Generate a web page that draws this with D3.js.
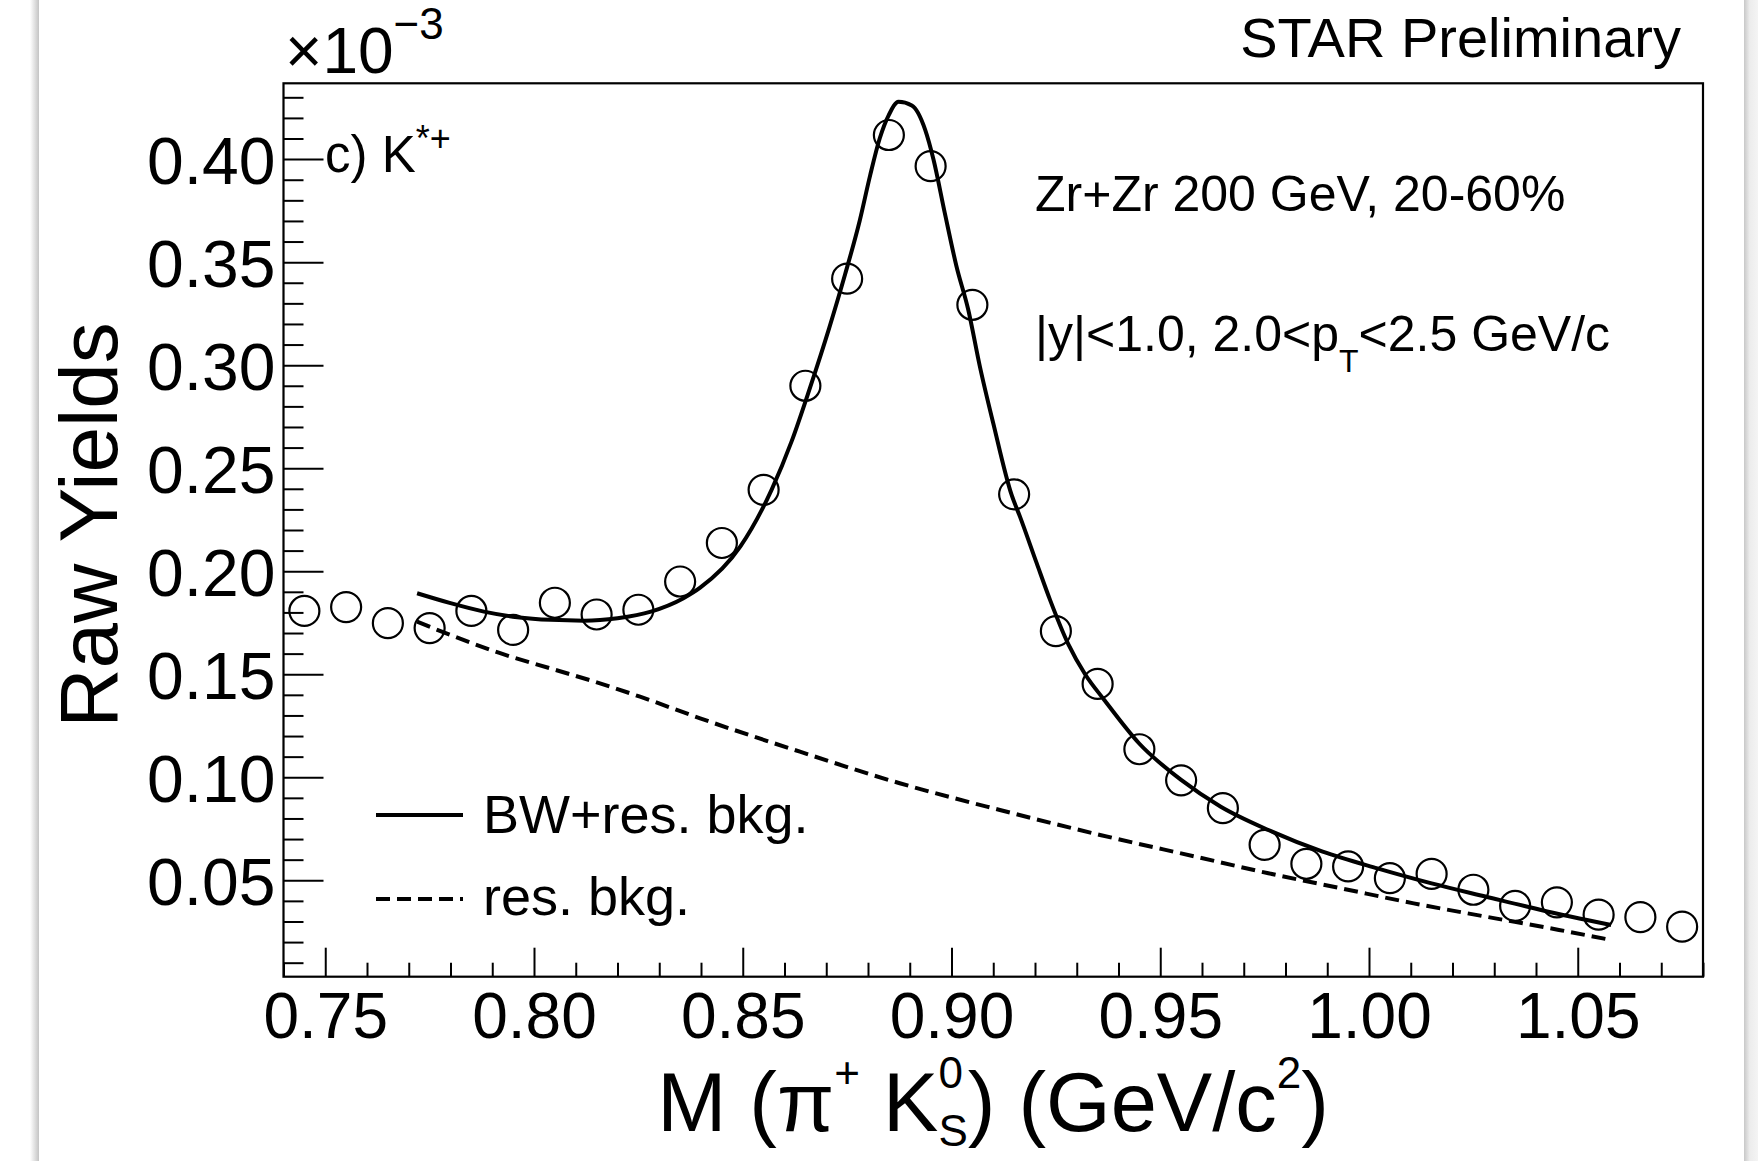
<!DOCTYPE html>
<html><head><meta charset="utf-8">
<script src="https://cdn.jsdelivr.net/npm/d3@7"></script>
<style>
body{margin:0;background:#fff}
svg{display:block}
text{font-family:"Liberation Sans",Arial,Helvetica,sans-serif;fill:#000}
</style>
</head><body>
<svg id="c" width="1758" height="1161"></svg>
<script>
// ---- data (values in units of 10^-3) ----
const massBins = [0.745,0.755,0.765,0.775,0.785,0.795,0.805,0.815,0.825,0.835,0.845,0.855,0.865,0.875,0.885,0.895,0.905,0.915,0.925,0.935,0.945,0.955,0.965,0.975,0.985,0.995,1.005,1.015,1.025,1.035,1.045,1.055,1.065,1.075];
const rawYields = [0.1807,0.1826,0.1748,0.1724,0.1807,0.1715,0.1847,0.1790,0.1813,0.1950,0.2137,0.2395,0.2900,0.3420,0.4117,0.3966,0.3293,0.2373,0.1709,0.1453,0.1136,0.0985,0.0850,0.0672,0.0580,0.0567,0.0510,0.0531,0.0454,0.0376,0.0393,0.0333,0.0321,0.0275];

const fitMass  = [0.772,0.780,0.788,0.796,0.804,0.812,0.820,0.828,0.8358,0.8398,0.8494,0.8569,0.8617,0.8661,0.8707,0.8745,0.8780,0.8805,0.8828,0.8850,0.8873,0.8905,0.8937,0.8957,0.8984,0.9012,0.9040,0.9068,0.9100,0.9144,0.9164,0.9204,0.9236,0.928,0.932,0.9366,0.9449,0.9550,0.9645,0.9759,0.9889,1.0020,1.0150,1.0281,1.0412,1.058];
const fitYield = [0.1893,0.1845,0.1804,0.1777,0.1764,0.1760,0.1772,0.1804,0.1869,0.1920,0.2119,0.2395,0.2630,0.2890,0.3180,0.3440,0.3700,0.3920,0.4100,0.4215,0.4278,0.4260,0.4142,0.3997,0.3738,0.3479,0.3270,0.2993,0.2718,0.2370,0.2265,0.2039,0.1861,0.1645,0.1500,0.1375,0.1165,0.0987,0.0857,0.0744,0.0639,0.0558,0.0485,0.0420,0.0356,0.0283];

const bkgMass  = [0.772,0.7799,0.7919,0.8038,0.8158,0.8254,0.8398,0.8637,0.8876,0.9116,0.9356,0.9584,0.9759,0.9933,1.0107,1.0281,1.0455,1.058];
const bkgYield = [0.1755,0.1691,0.1602,0.1529,0.1456,0.1391,0.1286,0.1124,0.0971,0.0841,0.0720,0.0615,0.0534,0.0461,0.0388,0.0323,0.0259,0.0210];

const xMajorTicks = [0.75,0.80,0.85,0.90,0.95,1.00,1.05];
const xTickLabels = ["0.75","0.80","0.85","0.90","0.95","1.00","1.05"];
const yMajorTicks = [0.05,0.10,0.15,0.20,0.25,0.30,0.35,0.40];
const yTickLabels = ["0.05","0.10","0.15","0.20","0.25","0.30","0.35","0.40"];
const xDomain = [0.74,1.08];
const yDomain = [0.0032,0.4368];
const legendLabels = ["BW+res. bkg.","res. bkg."];

// ---- layout ----
const L=283.5, R=1703, T=83.3, B=976.7;
const svg = d3.select('#c');

// page edge shadows
const defs = svg.append('defs');
const g1 = defs.append('linearGradient').attr('id','shL');
g1.append('stop').attr('offset','0').attr('stop-color','#ffffff');
g1.append('stop').attr('offset','1').attr('stop-color','#c4c4c4');
const g2 = defs.append('linearGradient').attr('id','shR');
g2.append('stop').attr('offset','0').attr('stop-color','#c8c8c8');
g2.append('stop').attr('offset','0.4').attr('stop-color','#ececec');
g2.append('stop').attr('offset','1').attr('stop-color','#f4f4f4');
svg.append('rect').attr('x',30).attr('y',0).attr('width',9).attr('height',1161).attr('fill','url(#shL)');
svg.append('rect').attr('x',1744).attr('y',0).attr('width',14).attr('height',1161).attr('fill','url(#shR)');

const x = d3.scaleLinear().domain(xDomain).range([L,R]);
const y = d3.scaleLinear().domain(yDomain).range([B,T]);

const xMinor = d3.range(0.74,1.0801,0.01).filter(v=>!xMajorTicks.some(m=>Math.abs(m-v)<1e-6));
const yMinor = d3.range(0.01,0.4301,0.01).filter(v=>!yMajorTicks.some(m=>Math.abs(m-v)<1e-6));

// x axis
const gx = svg.append('g').attr('transform',`translate(0,${B})`);
gx.append('g').call(d3.axisBottom(x).tickValues(xMinor).tickSize(-14).tickSizeOuter(0).tickFormat(''));
gx.append('g').attr('class','xmaj').call(d3.axisBottom(x).tickValues(xMajorTicks).tickSize(-29).tickSizeOuter(0).tickFormat((d,i)=>xTickLabels[i]));
gx.selectAll('.domain').remove();
gx.selectAll('line').attr('stroke','#000').attr('stroke-width',2);
gx.selectAll('.xmaj text').attr('y',61).attr('dy',0).attr('font-size',64)
  .style('font-family','"Liberation Sans",Arial,sans-serif').attr('fill','#000');

// y axis
const gy = svg.append('g').attr('transform',`translate(${L},0)`);
gy.append('g').call(d3.axisLeft(y).tickValues(yMinor).tickSize(-20).tickSizeOuter(0).tickFormat(''));
gy.append('g').attr('class','ymaj').call(d3.axisLeft(y).tickValues(yMajorTicks).tickSize(-40).tickSizeOuter(0).tickFormat((d,i)=>yTickLabels[i]));
gy.selectAll('.domain').remove();
gy.selectAll('line').attr('stroke','#000').attr('stroke-width',2);
gy.selectAll('.ymaj text').attr('x',-8).attr('dy',0).attr('y',24).attr('font-size',66)
  .style('font-family','"Liberation Sans",Arial,sans-serif').attr('fill','#000');

// frame
svg.append('rect').attr('x',L).attr('y',T).attr('width',R-L).attr('height',B-T)
  .attr('fill','none').attr('stroke','#000').attr('stroke-width',2.2);

// curves
const fitPts = fitMass.map((m,i)=>[m,fitYield[i]]);
const bkgPts = bkgMass.map((m,i)=>[m,bkgYield[i]]);
const line = d3.line().x(d=>x(d[0])).y(d=>y(d[1])).curve(d3.curveMonotoneX);
svg.append('path').attr('d',line(bkgPts)).attr('fill','none').attr('stroke','#000')
  .attr('stroke-width',4).attr('stroke-dasharray','14,7');
svg.append('path').attr('d',line(fitPts)).attr('fill','none').attr('stroke','#000')
  .attr('stroke-width',4).attr('stroke-linejoin','miter');

// data markers
svg.append('g').selectAll('circle').data(massBins).join('circle')
  .attr('cx',(d)=>x(d)).attr('cy',(d,i)=>y(rawYields[i])).attr('r',15)
  .attr('fill','none').attr('stroke','#000').attr('stroke-width',2.2);

// legend
svg.append('line').attr('x1',376).attr('x2',463).attr('y1',815).attr('y2',815)
  .attr('stroke','#000').attr('stroke-width',4);
svg.append('line').attr('x1',376).attr('x2',463).attr('y1',899).attr('y2',899)
  .attr('stroke','#000').attr('stroke-width',4).attr('stroke-dasharray','14,7');
svg.append('text').attr('x',483).attr('y',833).attr('font-size',54).text(legendLabels[0]);
svg.append('text').attr('x',483).attr('y',915).attr('font-size',54).text(legendLabels[1]);

// y title
svg.append('text').attr('transform','translate(117,525) rotate(-90)')
  .attr('text-anchor','middle').attr('font-size',82).text('Raw Yields');

// x title
const xt = svg.append('text').attr('x',993).attr('y',1131).attr('text-anchor','middle').attr('font-size',83);
xt.append('tspan').text('M (\u03C0');
xt.append('tspan').attr('font-size',44).attr('dy',-43).text('+');
xt.append('tspan').attr('dy',43).text(' K');
xt.append('tspan').attr('font-size',44).attr('dy',-43).text('0');
xt.append('tspan').attr('font-size',44).attr('dx',-24.5).attr('dy',58).text('S');
xt.append('tspan').attr('dy',-15).text(') (GeV/c');
xt.append('tspan').attr('font-size',44).attr('dy',-43).text('2');
xt.append('tspan').attr('dy',43).text(')');

// exponent
const ex = svg.append('text').attr('x',285).attr('y',73).attr('font-size',64);
ex.append('tspan').text('\u00D710');
ex.append('tspan').attr('font-size',44).attr('dy',-34).text('\u22123');

// STAR Preliminary
svg.append('text').attr('x',1681).attr('y',57).attr('text-anchor','end').attr('font-size',56).text('STAR Preliminary');

// panel label
const pl = svg.append('text').attr('x',325).attr('y',172).attr('font-size',51);
pl.append('tspan').text('c) K');
pl.append('tspan').attr('font-size',36).attr('dy',-21).text('*+');

// info text
svg.append('text').attr('x',1035).attr('y',211).attr('font-size',50).text('Zr+Zr 200 GeV, 20-60%');
const it = svg.append('text').attr('x',1035).attr('y',351).attr('font-size',50);
it.append('tspan').text('|y|<1.0, 2.0<p');
it.append('tspan').attr('font-size',32).attr('dy',21).text('T');
it.append('tspan').attr('dy',-21).text('<2.5 GeV/c');
</script>
</body></html>
